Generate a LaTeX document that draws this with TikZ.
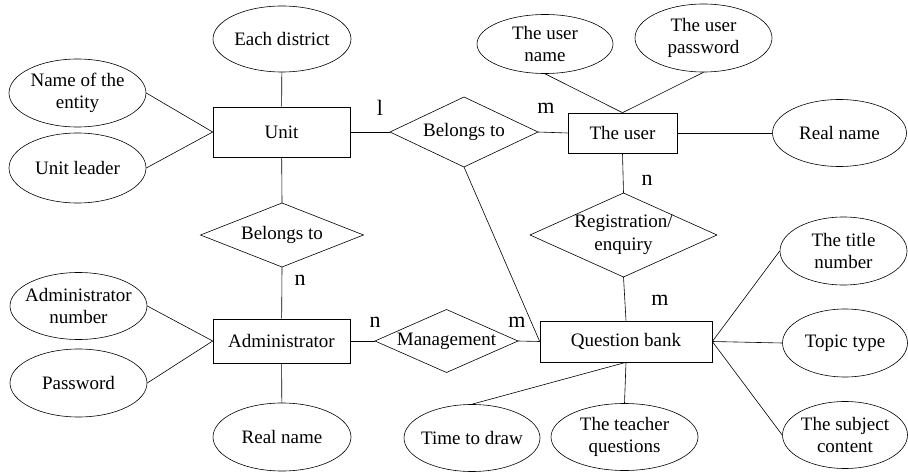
\documentclass[tikz,border=0pt]{standalone}
\usepackage{fontspec}
\setmainfont{Liberation Serif}
\usetikzlibrary{shapes.geometric}
\begin{document}
\begin{tikzpicture}[x=1pt,y=-1pt,
  every node/.style={font=\fontsize{19}{22.5}\selectfont, align=center, inner sep=0pt},
  attr/.style={draw, line width=0.6pt, ellipse, inner xsep=-30pt, inner ysep=-15pt},
  card/.style={font=\fontsize{22}{24}\selectfont},
  con/.style={line width=0.6pt}]
\useasboundingbox (0,0) rectangle (908,473);
% entities
\node[draw, line width=0.6pt, minimum width=137pt, minimum height=50pt] (unit) at (281.5,132) {Unit};
\node[draw, line width=0.6pt, minimum width=137pt, minimum height=44pt] (admin) at (281.5,341) {Administrator};
\node[draw, line width=0.6pt, minimum width=109pt, minimum height=40pt] (user) at (622.5,133) {The user};
\node[draw, line width=0.6pt, minimum width=172pt, minimum height=41pt] (qb) at (626,341.5) {Question bank};
% relationships (drawn as paths for exact size)
\newcommand{\mydiamond}[6]{% name, cx, cy, w, h, text
  \path[draw, line width=0.6pt] (#2-#4/2,#3) -- (#2,#3-#5/2) -- (#2+#4/2,#3) -- (#2,#3+#5/2) -- cycle;
  \node[inner sep=0pt] at (#2,#3) {#6};
  \coordinate (#1-w) at (#2-#4/2,#3);
  \coordinate (#1-e) at (#2+#4/2,#3);
  \coordinate (#1-n) at (#2,#3-#5/2);
  \coordinate (#1-s) at (#2,#3+#5/2);
}
\mydiamond{bel1}{464}{132}{148}{70}{Belongs to}
\mydiamond{bel2}{282}{235}{163}{64}{Belongs to}
\mydiamond{mgmt}{446.5}{341}{143}{63}{Management}
\mydiamond{reg}{623.5}{235}{187}{84}{Registration/\\enquiry}
% attributes
\node[attr, minimum width=138pt, minimum height=66pt] (dist) at (282,39) {Each district};
\node[attr, minimum width=137pt, minimum height=68pt] (ename) at (77.5,93) {Name of the\\entity};
\node[attr, minimum width=137pt, minimum height=70pt] (leader) at (77.5,168) {Unit leader};
\node[attr, minimum width=137pt, minimum height=67pt] (anum) at (78.5,306) {Administrator\\number};
\node[attr, minimum width=137pt, minimum height=68pt] (pwd) at (78.5,383) {Password};
\node[attr, minimum width=138pt, minimum height=68pt] (rname1) at (282,437) {Real name};
\node[attr, minimum width=136pt, minimum height=59pt] (uname) at (545,44) {The user\\name};
\node[attr, minimum width=137pt, minimum height=68pt] (upwd) at (703.5,38) {The user\\password};
\node[attr, minimum width=134pt, minimum height=67pt] (rname2) at (839.5,133) {Real name};
\node[attr, minimum width=127pt, minimum height=68pt] (tnum) at (843.5,251) {The title\\number};
\node[attr, minimum width=125pt, minimum height=68pt] (ttype) at (845,343) {Topic type};
\node[attr, minimum width=125pt, minimum height=67pt] (subj) at (845,435) {The subject\\content};
\node[attr, minimum width=136pt, minimum height=67pt] (tdraw) at (472,438) {Time to draw};
\node[attr, minimum width=147pt, minimum height=67pt] (tq) at (624.5,437) {The teacher\\questions};
% connectors
\draw[con] (dist) -- (unit);
\draw[con] (ename.east) -- (unit.west);
\draw[con] (leader.east) -- (unit.west);
\draw[con] (unit) -- (bel2-n);
\draw[con] (bel2-s) -- (admin);
\draw[con] (unit.east) -- (bel1-w);
\draw[con] (bel1-e) -- (user.west);
\draw[con] (bel1-s) -- (qb.west);
\draw[con] (anum.east) -- (admin.west);
\draw[con] (pwd.east) -- (admin.west);
\draw[con] (admin) -- (rname1);
\draw[con] (admin.east) -- (mgmt-w);
\draw[con] (mgmt-e) -- (qb.west);
\draw[con] (uname.south) -- (user.north);
\draw[con] (upwd.south) -- (user.north);
\draw[con] (user) -- (rname2);
\draw[con] (user.south) -- (reg-n);
\draw[con] (reg-s) -- (qb.north);
\draw[con] (qb.east) -- (tnum.west);
\draw[con] (qb.east) -- (ttype.west);
\draw[con] (qb.east) -- (subj.west);
\draw[con] (qb.south) -- (tdraw.north);
\draw[con] (qb.south) -- (tq.north);
% cardinalities
\node[card] (c1) at (380,108) {l};
\node[card] (c2) at (546,108) {m};
\node[card] (c3) at (647,180) {n};
\node[card] (c4) at (300,280) {n};
\node[card] (c5) at (375,322) {n};
\node[card] (c6) at (517,322) {m};
\node[card] (c7) at (660,300) {m};
\end{tikzpicture}
\end{document}
